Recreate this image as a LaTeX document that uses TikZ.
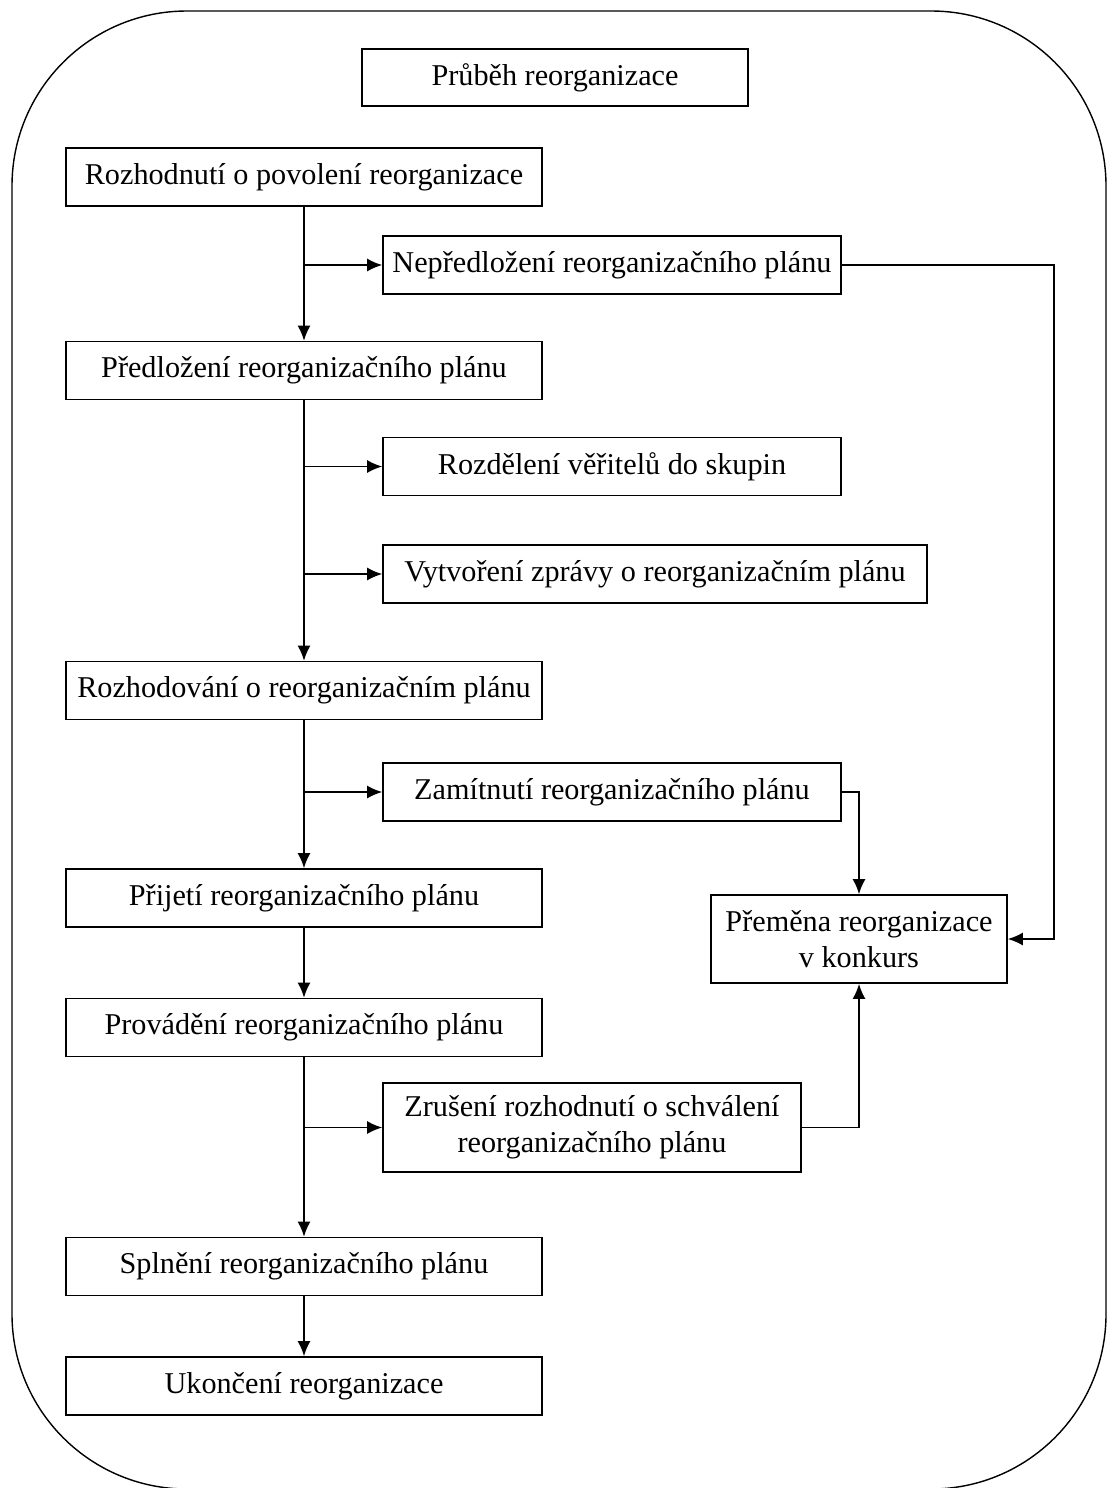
\documentclass[tikz,border=0pt]{standalone}
\usepackage{fontspec}
\setmainfont{Liberation Serif}
\usetikzlibrary{arrows.meta}

\begin{document}
\begin{tikzpicture}[x=0.02cm,y=-0.02cm,line width=0.9pt,
    box/.style={draw,line width=1pt,minimum height=1.16cm,inner sep=0pt,align=center,
        font=\fontsize{17.2}{20.5}\selectfont},
    mainbox/.style={box,minimum width=9.52cm},
    sidebox/.style={box,minimum width=9.16cm},
    arr/.style={-{Latex[length=3mm,width=2.6mm]}}]
    \useasboundingbox (0,0) rectangle (1107,1488);

    % Frame
    \draw[line width=0.8pt,rounded corners=3.5cm] (12,11) rectangle (1106,1489);

    % Title
    \node[box,minimum width=7.72cm,minimum height=1.14cm] (title) at (555,77.5) {Průběh reorganizace};

    % Main column
    \node[mainbox] (povoleni) at (304,177) {Rozhodnutí o povolení reorganizace};
    \node[mainbox] (predlozeni) at (304,370.5) {Předložení reorganizačního plánu};
    \node[mainbox] (rozhodovani) at (304,690.5) {Rozhodování o reorganizačním plánu};
    \node[mainbox] (prijeti) at (304,898) {Přijetí reorganizačního plánu};
    \node[mainbox] (provadeni) at (304,1027.5) {Provádění reorganizačního plánu};
    \node[mainbox] (splneni) at (304,1266.5) {Splnění reorganizačního plánu};
    \node[mainbox] (ukonceni) at (304,1386) {Ukončení reorganizace};

    % Side boxes
    \node[sidebox] (nepredlozeni) at (612,265) {Nepředložení reorganizačního plánu};
    \node[sidebox] (rozdeleni) at (612,466.5) {Rozdělení věřitelů do skupin};
    \node[box,minimum width=10.88cm] (zprava) at (655,574) {Vytvoření zprávy o reorganizačním plánu};
    \node[sidebox] (zamitnuti) at (612,792) {Zamítnutí reorganizačního plánu};
    \node[box,minimum width=8.36cm,minimum height=1.78cm] (zruseni) at (592,1127.5)
        {Zrušení rozhodnutí o schválení\\reorganizačního plánu};
    \node[box,minimum width=5.92cm,minimum height=1.76cm] (premena) at (859,939)
        {Přeměna reorganizace\\v konkurs};

    % Main flow
    \draw[arr] (povoleni) -- (predlozeni);
    \draw[arr] (predlozeni) -- (rozhodovani);
    \draw[arr] (rozhodovani) -- (prijeti);
    \draw[arr] (prijeti) -- (provadeni);
    \draw[arr] (provadeni) -- (splneni);
    \draw[arr] (splneni) -- (ukonceni);

    % Branches
    \draw[arr] (povoleni.south |- nepredlozeni) -- (nepredlozeni);
    \draw[arr] (predlozeni.south |- rozdeleni) -- (rozdeleni);
    \draw[arr] (predlozeni.south |- zprava) -- (zprava);
    \draw[arr] (rozhodovani.south |- zamitnuti) -- (zamitnuti);
    \draw[arr] (provadeni.south |- zruseni) -- (zruseni);

    % Links to Premena
    \draw[arr] (nepredlozeni.east) -- ++(212,0) |- (premena.east);
    \draw[arr] (zamitnuti.east) -| (premena.north);
    \draw[arr] (zruseni.east) -| (premena.south);
\end{tikzpicture}
\end{document}
